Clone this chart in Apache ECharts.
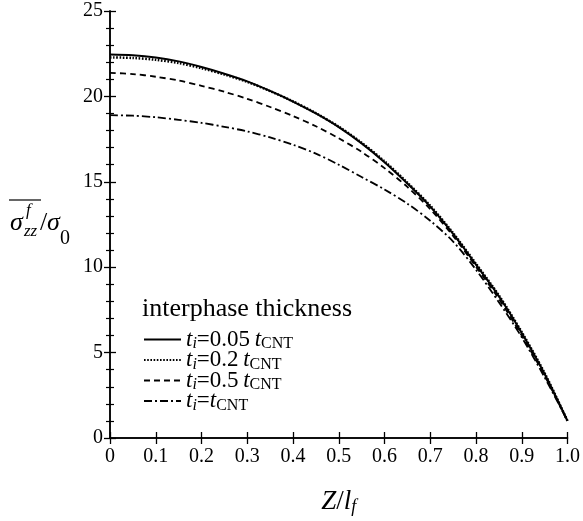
<!DOCTYPE html>
<html><head><meta charset="utf-8">
<script src="https://cdn.jsdelivr.net/npm/echarts@6/dist/echarts.min.js"></script>
<style>html,body{margin:0;padding:0;background:#fff}#c{width:583px;height:521px}</style>
</head><body><div id="c"></div>
<script>
// ---- data ----
const zValues   = [0,0.05,0.1,0.15,0.2,0.25,0.3,0.35,0.4,0.45,0.5,0.55,0.6,0.65,0.7,0.75,0.8,0.85,0.9,0.95,1.0];
const stressT005 = [22.45,22.41,22.28,22.05,21.72,21.33,20.88,20.32,19.70,19.00,18.20,17.25,16.15,14.90,13.55,11.95,10.15,8.30,6.15,3.75,1.00];
const stressT02  = [22.28,22.25,22.14,21.95,21.65,21.28,20.85,20.31,19.71,19.02,18.23,17.29,16.20,14.95,13.60,12.00,10.20,8.35,6.20,3.80,1.00];
const stressT05  = [21.38,21.31,21.15,20.93,20.62,20.27,19.86,19.38,18.85,18.25,17.55,16.75,15.80,14.70,13.40,11.83,10.03,8.15,6.00,3.65,1.00];
const stressT10  = [18.90,18.87,18.78,18.63,18.45,18.22,17.95,17.60,17.17,16.65,16.00,15.28,14.55,13.72,12.72,11.50,9.85,7.95,5.90,3.55,1.00];
const xTickLabels = ['0','0.1','0.2','0.3','0.4','0.5','0.6','0.7','0.8','0.9','1.0'];
const yTickLabels = ['0','5','10','15','20','25'];
const seriesKeys = ['t005','t02','t05','t10'];
const seriesCoef = ['0.05\u2009','0.2\u2009','0.5\u2009',''];
const legendTitle = 'interphase thickness';

const SERIF = '"Liberation Serif","Times New Roman",serif';
const pair = (ys) => zValues.map((z,i)=>[z, ys[i]]);
const styles = [
  {type:'solid', width:2},
  {type:[1.6,1.6], width:2.5},
  {type:[6,4], width:1.8},
  {type:[8,3,2,3], width:1.8}
];
const allData = [stressT005, stressT02, stressT05, stressT10];

const chart = echarts.init(document.getElementById('c'), null, {renderer:'canvas'});
const axisLine = {show:true, lineStyle:{color:'#000', width:1.5}};
chart.setOption({
  animation:false,
  backgroundColor:'#fff',
  title:{text:legendTitle, left:137, top:291,
    textStyle:{fontFamily:SERIF, fontWeight:'normal', fontSize:26, color:'#000'}},
  grid:{left:110, right:11, top:11, bottom:78, containLabel:false},
  legend:{
    orient:'vertical', left:138, top:322, itemGap:-4.5, itemWidth:37, itemHeight:20,
    data:seriesKeys,
    itemStyle:{opacity:0},
    formatter:(name)=>{
      const i = seriesKeys.indexOf(name);
      return '{it|t}{si|i}{n|=' + seriesCoef[i] + '}{it|t}{su|CNT}';
    },
    textStyle:{fontFamily:SERIF, color:'#000', fontSize:23,
      rich:{
        it:{fontFamily:SERIF, fontStyle:'italic', fontSize:23, lineHeight:20},
        n:{fontFamily:SERIF, fontSize:23, lineHeight:20},
        si:{fontFamily:SERIF, fontStyle:'italic', fontSize:16, lineHeight:20, padding:[9,0,0,0]},
        su:{fontFamily:SERIF, fontSize:16, lineHeight:20, padding:[9,0,0,0]}
      }}
  },
  xAxis:[
    {type:'value', min:0, max:1, interval:0.1, position:'bottom',
     axisLine, splitLine:{show:false},
     axisTick:{inside:true, length:6, lineStyle:{color:'#000', width:1.3}},
     axisLabel:{margin:9, fontFamily:SERIF, fontSize:20, color:'#000',
       formatter:(v)=>xTickLabels[Math.round(v*10)]},
     name:'{i|Z}{n|/}{i|l}{s|f}', nameLocation:'middle', nameGap:50,
     nameTextStyle:{rich:{
       i:{fontFamily:SERIF, fontStyle:'italic', fontSize:27, color:'#000'},
       n:{fontFamily:SERIF, fontSize:27, color:'#000'},
       s:{fontFamily:SERIF, fontStyle:'italic', fontSize:18, color:'#000', padding:[10,0,0,0]}
     }}},
    {type:'value', min:0, max:1, interval:0.1, position:'top',
     axisLine, splitLine:{show:false},
     axisTick:{inside:true, length:6, lineStyle:{color:'#000', width:1.3}},
     axisLabel:{show:false}}
  ],
  yAxis:[
    {type:'value', min:0, max:25, interval:5, position:'left',
     axisLine, splitLine:{show:false},
     axisTick:{inside:true, length:6, lineStyle:{color:'#000', width:1.3}},
     minorTick:{show:true, splitNumber:5, length:4, lineStyle:{color:'#000', width:1.2}},
     axisLabel:{margin:7, fontFamily:SERIF, fontSize:20, color:'#000',
       formatter:(v)=>yTickLabels[Math.round(v/5)]}},
    {type:'value', min:0, max:25, interval:5, position:'right',
     axisLine, splitLine:{show:false},
     axisTick:{inside:true, length:6, lineStyle:{color:'#000', width:1.3}},
     minorTick:{show:true, splitNumber:5, length:4, lineStyle:{color:'#000', width:1.2}},
     axisLabel:{show:false}}
  ],
  series: seriesKeys.map((k,i)=>({
    name:k, type:'line', data:pair(allData[i]), xAxisIndex:0, yAxisIndex:0,
    showSymbol:false, symbol:'none', smooth:0.3, z:10-i,
    lineStyle:{color:'#000', width:styles[i].width, type:styles[i].type},
    itemStyle:{color:'#000'}
  })),
  graphic:[
    {type:'text', x:10, y:223, style:{text:'σ', font:'italic 26px '+SERIF, fill:'#000', textVerticalAlign:'middle'}},
    {type:'text', x:26, y:211, style:{text:'f', font:'italic 17px '+SERIF, fill:'#000', textVerticalAlign:'middle'}},
    {type:'text', x:24, y:232, style:{text:'zz', font:'italic 17px '+SERIF, fill:'#000', textVerticalAlign:'middle'}},
    {type:'text', x:40, y:223, style:{text:'/', font:'26px '+SERIF, fill:'#000', textVerticalAlign:'middle'}},
    {type:'text', x:47, y:223, style:{text:'σ', font:'italic 26px '+SERIF, fill:'#000', textVerticalAlign:'middle'}},
    {type:'text', x:60, y:239, style:{text:'0', font:'20px '+SERIF, fill:'#000', textVerticalAlign:'middle'}},
    {type:'line', shape:{x1:9, y1:200, x2:41, y2:200}, style:{stroke:'#000', lineWidth:1.2}}
  ]
});
</script></body></html>
